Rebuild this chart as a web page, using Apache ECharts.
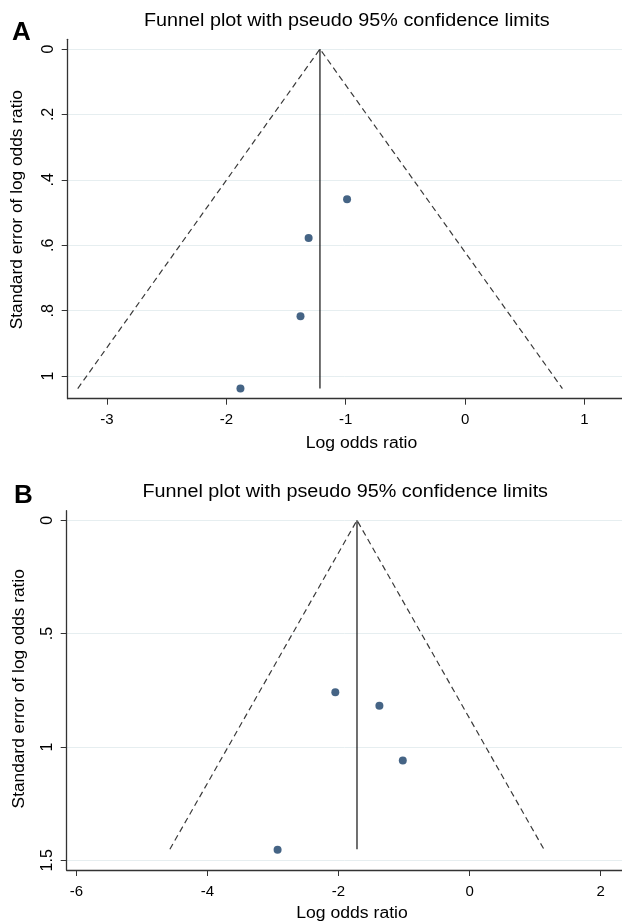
<!DOCTYPE html>
<html>
<head>
<meta charset="utf-8">
<script src="https://cdn.jsdelivr.net/npm/echarts@6/dist/echarts.min.js"></script>
<style>
html,body{margin:0;padding:0;background:#fff;}
#c{width:622px;height:924px;}
</style>
</head>
<body>
<div id="c"></div>
<script>
// ---- Texts ----
const titleText = 'Funnel plot with pseudo 95% confidence limits';
const xNameText = 'Log odds ratio';
const yNameText = 'Standard error of log odds ratio';

// ---- Panel A data ----
const logOrA = [-1.882, -1.379, -1.311, -0.989];
const seA = [1.038, 0.817, 0.578, 0.459];
const pooledA = -1.216;
const seMaxA = 1.038;
const lowerLimitA = -3.245;
const upperLimitA = 0.815;
const xTicksA = [-3, -2, -1, 0, 1];
const yTicksA = [0, 0.2, 0.4, 0.6, 0.8, 1];
const yTickLabelsA = ['0', '.2', '.4', '.6', '.8', '1'];

// ---- Panel B data ----
const logOrB = [-2.930, -2.049, -1.376, -1.019];
const seB = [1.453, 0.759, 0.818, 1.060];
const pooledB = -1.718;
const seMaxB = 1.451;
const lowerLimitB = -4.574;
const upperLimitB = 1.135;
const xTicksB = [-6, -4, -2, 0, 2];
const yTicksB = [0, 0.5, 1, 1.5];
const yTickLabelsB = ['0', '.5', '1', '1.5'];

const FONT = '"Liberation Sans", Arial, Helvetica, sans-serif';
const AXIS_COLOR = '#333';
const GRID_COLOR = '#e6eef0';
const DOT_COLOR = '#163d66';

function xAxisCfg(gridIndex, min, max, ticks) {
  return {
    type: 'value', gridIndex, min, max,
    axisLine: {show: true, onZero: false, lineStyle: {color: AXIS_COLOR, width: 1.3}},
    axisTick: {show: true, length: 6, customValues: ticks, lineStyle: {color: AXIS_COLOR, width: 1}},
    axisLabel: {customValues: ticks, fontFamily: FONT, fontSize: 15, color: '#000', margin: 14,
      formatter: v => String(v)},
    splitLine: {show: false}
  };
}
function yAxisCfg(gridIndex, min, max, ticks, labels) {
  return {
    type: 'value', gridIndex, min, max, inverse: true,
    axisLine: {show: true, onZero: false, lineStyle: {color: AXIS_COLOR, width: 1.3}},
    axisTick: {show: true, length: 6, customValues: ticks, lineStyle: {color: AXIS_COLOR, width: 1}},
    axisLabel: {customValues: ticks, rotate: 90, fontFamily: FONT, fontSize: 16, color: '#000', margin: 11,
      formatter: v => { const i = ticks.findIndex(t => Math.abs(t - v) < 1e-9); return i >= 0 ? labels[i] : ''; }},
    splitLine: {show: true, lineStyle: {color: GRID_COLOR, width: 1}}
  };
}
function panelSeries(idx, xs, ses, pooled, seMax, lo, hi) {
  return [
    {type: 'line', xAxisIndex: idx, yAxisIndex: idx, data: [[lo, seMax], [pooled, 0], [hi, seMax]],
      symbol: 'none', silent: true, lineStyle: {color: '#3a3a3a', width: 1.2, type: [6, 4]}, z: 2},
    {type: 'line', xAxisIndex: idx, yAxisIndex: idx, data: [[pooled, 0], [pooled, seMax]],
      symbol: 'none', silent: true, lineStyle: {color: '#111', width: 1.2}, z: 2},
    {type: 'scatter', xAxisIndex: idx, yAxisIndex: idx, data: xs.map((x, i) => [x, ses[i]]),
      symbol: 'circle', symbolSize: 8, itemStyle: {color: DOT_COLOR}, z: 3}
  ];
}
function txt(text, x, y, size, opts) {
  opts = opts || {};
  return {type: 'text', x: x, y: y, scaleX: opts.sx || 1, rotation: opts.rot || 0,
    style: {text, x: 0, y: 0, textAlign: opts.align || 'center', textVerticalAlign: 'middle',
      font: (opts.bold ? 'bold ' : '') + size + 'px ' + FONT, fill: '#000'}};
}

const chart = echarts.init(document.getElementById('c'), null, {renderer: 'canvas'});
chart.setOption({
  animation: false,
  backgroundColor: '#fff',
  grid: [
    {left: 67.7, top: 39.3, right: -33, bottom: 525.3, containLabel: false},
    {left: 66.7, top: 510.7, right: -15, bottom: 54, containLabel: false}
  ],
  xAxis: [
    xAxisCfg(0, -3.329, 1.314, xTicksA),
    xAxisCfg(1, -6.149, 2.327, xTicksB)
  ],
  yAxis: [
    yAxisCfg(0, -0.0297, 1.069, yTicksA, yTickLabelsA),
    yAxisCfg(1, -0.0423, 1.5426, yTicksB, yTickLabelsB)
  ],
  graphic: [
    txt(titleText, 346.8, 20.7, 17.5, {sx: 1.13}),
    txt('A', 12, 32.5, 26, {bold: true, align: 'left'}),
    txt(xNameText, 361.5, 444, 16, {sx: 1.1}),
    txt(yNameText, 17.5, 209.7, 17.3, {rot: Math.PI / 2}),
    txt(titleText, 345.2, 491.7, 17.5, {sx: 1.13}),
    txt('B', 14, 496, 26, {bold: true, align: 'left'}),
    txt(xNameText, 352, 914, 16, {sx: 1.1}),
    txt(yNameText, 19.7, 688.8, 17.3, {rot: Math.PI / 2})
  ],
  series: [
    ...panelSeries(0, logOrA, seA, pooledA, seMaxA, lowerLimitA, upperLimitA),
    ...panelSeries(1, logOrB, seB, pooledB, seMaxB, lowerLimitB, upperLimitB)
  ]
});
</script>
</body>
</html>
